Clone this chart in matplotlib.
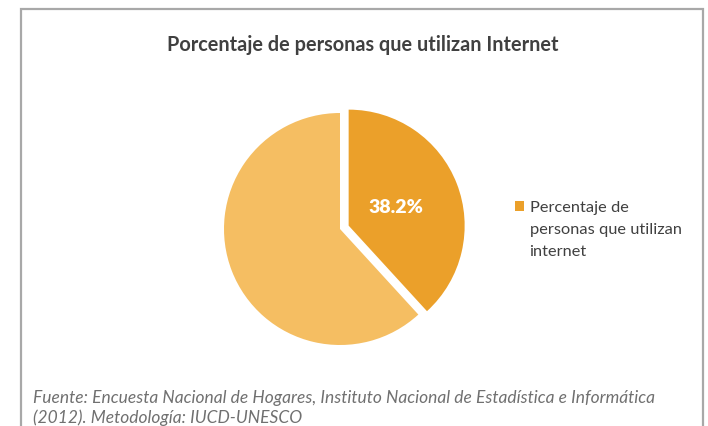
import matplotlib.pyplot as plt
from matplotlib.patches import Rectangle

labels = ['Percentaje de\npersonas que utilizan\ninternet', 'No utilizan']
values = [38.2, 61.8]
colors = ['#EBA02A', '#F5BE62']
title = 'Porcentaje de personas que utilizan Internet'
source = ('Fuente: Encuesta Nacional de Hogares, Instituto Nacional de Estadística e Informática\n'
          '(2012). Metodología: IUCD-UNESCO')

W, H = 708, 426
fig = plt.figure(figsize=(W / 100, H / 100), dpi=100)
fig.patch.set_facecolor('white')

# frame around the chart (bottom edge runs off the image)
fig.add_artist(Rectangle((21 / W, -0.05), (703 - 21) / W, 1.05 - 9 / H,
                         transform=fig.transFigure, fill=False,
                         edgecolor='#A8A8A8', linewidth=1.6, clip_on=False))

# pie axes: center ~ (340, 229) px, radius ~ 116 px
L = 1.3
S = 116 * 2 * L
cx, cy = 340, H - 229
ax = fig.add_axes([(cx - S / 2) / W, (cy - S / 2) / H, S / W, S / H])
wedges, texts, autotexts = ax.pie(values, colors=colors, startangle=90, counterclock=False,
                                  explode=[0.08, 0], autopct='%.1f%%', pctdistance=0.44,
                                  wedgeprops=dict(linewidth=0),
                                  textprops=dict(family='Lato', fontweight='heavy',
                                                 fontsize=14, color='white'))
autotexts[1].set_visible(False)
ax.set_xlim(-L, L)
ax.set_ylim(-L, L)
ax.set_aspect('equal')
ax.axis('off')

leg = fig.legend([wedges[0]], [labels[0]], loc='upper left',
                 bbox_to_anchor=(500 / W, 1 - 186 / H), frameon=False,
                 handlelength=0.55, handleheight=0.55, handletextpad=0.35,
                 prop=dict(family='Lato', size=11.8))
for t in leg.get_texts():
    t.set_color('#404040')
    t.set_linespacing(1.72)
# put the colour square next to the first line of the label
for col in leg._legend_handle_box.get_children():
    for item in col.get_children():
        item.align = 'top'

fig.text(363 / W, 1 - 45 / H, title, ha='center', va='center', fontsize=14.3,
         fontweight='bold', color='#404040', family='Lato')

fig.text(33 / W, 1 - 408 / H, source, ha='left', va='center', fontsize=12.5,
         style='italic', color='#707070', family='Lato', linespacing=1.25)

fig.savefig('out.png', dpi=100)
